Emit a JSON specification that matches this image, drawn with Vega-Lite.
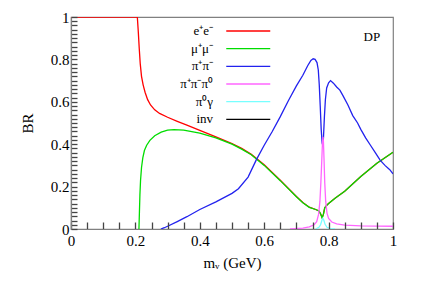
{
  "$schema": "https://vega.github.io/schema/vega-lite/v6.json",
  "width": 322,
  "height": 212,
  "autosize": {"type": "none"},
  "padding": {"left": 71, "top": 17, "right": 30, "bottom": 53},
  "background": "white",
  "config": {
    "view": {"stroke": "#808080", "strokeWidth": 1.2},
    "font": "Liberation Serif",
    "axis": {"grid": false, "zindex": 1, "tickColor": "#444444", "tickWidth": 1.3}
  },
  "data": {
    "values": [
      {"m": 0, "c": "e⁺e⁻", "br": 1},
      {"m": 0.1, "c": "e⁺e⁻", "br": 1},
      {"m": 0.2, "c": "e⁺e⁻", "br": 1},
      {"m": 0.206, "c": "e⁺e⁻", "br": 1},
      {"m": 0.209, "c": "e⁺e⁻", "br": 0.93},
      {"m": 0.212, "c": "e⁺e⁻", "br": 0.85},
      {"m": 0.215, "c": "e⁺e⁻", "br": 0.78},
      {"m": 0.219, "c": "e⁺e⁻", "br": 0.72},
      {"m": 0.224, "c": "e⁺e⁻", "br": 0.68},
      {"m": 0.23, "c": "e⁺e⁻", "br": 0.645},
      {"m": 0.238, "c": "e⁺e⁻", "br": 0.61},
      {"m": 0.247, "c": "e⁺e⁻", "br": 0.585},
      {"m": 0.26, "c": "e⁺e⁻", "br": 0.562},
      {"m": 0.275, "c": "e⁺e⁻", "br": 0.545},
      {"m": 0.3, "c": "e⁺e⁻", "br": 0.527},
      {"m": 0.33, "c": "e⁺e⁻", "br": 0.508},
      {"m": 0.36, "c": "e⁺e⁻", "br": 0.49},
      {"m": 0.4, "c": "e⁺e⁻", "br": 0.465},
      {"m": 0.45, "c": "e⁺e⁻", "br": 0.435},
      {"m": 0.5, "c": "e⁺e⁻", "br": 0.403},
      {"m": 0.53, "c": "e⁺e⁻", "br": 0.38},
      {"m": 0.56, "c": "e⁺e⁻", "br": 0.352},
      {"m": 0.6, "c": "e⁺e⁻", "br": 0.303},
      {"m": 0.65, "c": "e⁺e⁻", "br": 0.23},
      {"m": 0.7, "c": "e⁺e⁻", "br": 0.153},
      {"m": 0.72, "c": "e⁺e⁻", "br": 0.125},
      {"m": 0.74, "c": "e⁺e⁻", "br": 0.103},
      {"m": 0.76, "c": "e⁺e⁻", "br": 0.092},
      {"m": 0.77, "c": "e⁺e⁻", "br": 0.085},
      {"m": 0.775, "c": "e⁺e⁻", "br": 0.072},
      {"m": 0.78, "c": "e⁺e⁻", "br": 0.053},
      {"m": 0.784, "c": "e⁺e⁻", "br": 0.07},
      {"m": 0.788, "c": "e⁺e⁻", "br": 0.1},
      {"m": 0.795, "c": "e⁺e⁻", "br": 0.113},
      {"m": 0.8, "c": "e⁺e⁻", "br": 0.12},
      {"m": 0.82, "c": "e⁺e⁻", "br": 0.145},
      {"m": 0.85, "c": "e⁺e⁻", "br": 0.178},
      {"m": 0.9, "c": "e⁺e⁻", "br": 0.248},
      {"m": 0.95, "c": "e⁺e⁻", "br": 0.31},
      {"m": 1, "c": "e⁺e⁻", "br": 0.362},

      {"m": 0.211, "c": "μ⁺μ⁻", "br": 0},
      {"m": 0.2125, "c": "μ⁺μ⁻", "br": 0.08},
      {"m": 0.214, "c": "μ⁺μ⁻", "br": 0.16},
      {"m": 0.216, "c": "μ⁺μ⁻", "br": 0.23},
      {"m": 0.219, "c": "μ⁺μ⁻", "br": 0.29},
      {"m": 0.223, "c": "μ⁺μ⁻", "br": 0.335},
      {"m": 0.228, "c": "μ⁺μ⁻", "br": 0.37},
      {"m": 0.235, "c": "μ⁺μ⁻", "br": 0.395},
      {"m": 0.245, "c": "μ⁺μ⁻", "br": 0.418},
      {"m": 0.26, "c": "μ⁺μ⁻", "br": 0.44},
      {"m": 0.28, "c": "μ⁺μ⁻", "br": 0.457},
      {"m": 0.3, "c": "μ⁺μ⁻", "br": 0.466},
      {"m": 0.32, "c": "μ⁺μ⁻", "br": 0.469},
      {"m": 0.35, "c": "μ⁺μ⁻", "br": 0.466},
      {"m": 0.4, "c": "μ⁺μ⁻", "br": 0.452},
      {"m": 0.45, "c": "μ⁺μ⁻", "br": 0.43},
      {"m": 0.5, "c": "μ⁺μ⁻", "br": 0.4},
      {"m": 0.53, "c": "μ⁺μ⁻", "br": 0.377},
      {"m": 0.56, "c": "μ⁺μ⁻", "br": 0.35},
      {"m": 0.6, "c": "μ⁺μ⁻", "br": 0.3},
      {"m": 0.65, "c": "μ⁺μ⁻", "br": 0.228},
      {"m": 0.7, "c": "μ⁺μ⁻", "br": 0.152},
      {"m": 0.72, "c": "μ⁺μ⁻", "br": 0.124},
      {"m": 0.74, "c": "μ⁺μ⁻", "br": 0.102},
      {"m": 0.76, "c": "μ⁺μ⁻", "br": 0.092},
      {"m": 0.77, "c": "μ⁺μ⁻", "br": 0.085},
      {"m": 0.775, "c": "μ⁺μ⁻", "br": 0.072},
      {"m": 0.78, "c": "μ⁺μ⁻", "br": 0.052},
      {"m": 0.784, "c": "μ⁺μ⁻", "br": 0.07},
      {"m": 0.788, "c": "μ⁺μ⁻", "br": 0.1},
      {"m": 0.795, "c": "μ⁺μ⁻", "br": 0.113},
      {"m": 0.8, "c": "μ⁺μ⁻", "br": 0.12},
      {"m": 0.82, "c": "μ⁺μ⁻", "br": 0.145},
      {"m": 0.85, "c": "μ⁺μ⁻", "br": 0.178},
      {"m": 0.9, "c": "μ⁺μ⁻", "br": 0.248},
      {"m": 0.95, "c": "μ⁺μ⁻", "br": 0.31},
      {"m": 1, "c": "μ⁺μ⁻", "br": 0.362},

      {"m": 0.279, "c": "π⁺π⁻", "br": 0},
      {"m": 0.29, "c": "π⁺π⁻", "br": 0.006},
      {"m": 0.3, "c": "π⁺π⁻", "br": 0.013},
      {"m": 0.33, "c": "π⁺π⁻", "br": 0.035},
      {"m": 0.36, "c": "π⁺π⁻", "br": 0.058},
      {"m": 0.4, "c": "π⁺π⁻", "br": 0.092},
      {"m": 0.45, "c": "π⁺π⁻", "br": 0.128},
      {"m": 0.5, "c": "π⁺π⁻", "br": 0.168},
      {"m": 0.52, "c": "π⁺π⁻", "br": 0.19},
      {"m": 0.55, "c": "π⁺π⁻", "br": 0.245},
      {"m": 0.575, "c": "π⁺π⁻", "br": 0.325},
      {"m": 0.6, "c": "π⁺π⁻", "br": 0.395},
      {"m": 0.625, "c": "π⁺π⁻", "br": 0.46},
      {"m": 0.65, "c": "π⁺π⁻", "br": 0.53},
      {"m": 0.675, "c": "π⁺π⁻", "br": 0.605},
      {"m": 0.7, "c": "π⁺π⁻", "br": 0.675},
      {"m": 0.72, "c": "π⁺π⁻", "br": 0.725},
      {"m": 0.735, "c": "π⁺π⁻", "br": 0.77},
      {"m": 0.745, "c": "π⁺π⁻", "br": 0.795},
      {"m": 0.752, "c": "π⁺π⁻", "br": 0.803},
      {"m": 0.758, "c": "π⁺π⁻", "br": 0.8},
      {"m": 0.764, "c": "π⁺π⁻", "br": 0.785},
      {"m": 0.768, "c": "π⁺π⁻", "br": 0.75},
      {"m": 0.771, "c": "π⁺π⁻", "br": 0.68},
      {"m": 0.774, "c": "π⁺π⁻", "br": 0.58},
      {"m": 0.777, "c": "π⁺π⁻", "br": 0.47},
      {"m": 0.78, "c": "π⁺π⁻", "br": 0.405},
      {"m": 0.782, "c": "π⁺π⁻", "br": 0.395},
      {"m": 0.784, "c": "π⁺π⁻", "br": 0.43},
      {"m": 0.787, "c": "π⁺π⁻", "br": 0.53},
      {"m": 0.79, "c": "π⁺π⁻", "br": 0.61},
      {"m": 0.794, "c": "π⁺π⁻", "br": 0.665},
      {"m": 0.8, "c": "π⁺π⁻", "br": 0.69},
      {"m": 0.806, "c": "π⁺π⁻", "br": 0.7},
      {"m": 0.815, "c": "π⁺π⁻", "br": 0.688},
      {"m": 0.825, "c": "π⁺π⁻", "br": 0.67},
      {"m": 0.835, "c": "π⁺π⁻", "br": 0.655},
      {"m": 0.845, "c": "π⁺π⁻", "br": 0.628},
      {"m": 0.86, "c": "π⁺π⁻", "br": 0.585},
      {"m": 0.875, "c": "π⁺π⁻", "br": 0.535},
      {"m": 0.89, "c": "π⁺π⁻", "br": 0.5},
      {"m": 0.9, "c": "π⁺π⁻", "br": 0.47},
      {"m": 0.915, "c": "π⁺π⁻", "br": 0.43},
      {"m": 0.93, "c": "π⁺π⁻", "br": 0.395},
      {"m": 0.945, "c": "π⁺π⁻", "br": 0.36},
      {"m": 0.96, "c": "π⁺π⁻", "br": 0.325},
      {"m": 0.975, "c": "π⁺π⁻", "br": 0.3},
      {"m": 0.99, "c": "π⁺π⁻", "br": 0.28},
      {"m": 1, "c": "π⁺π⁻", "br": 0.26},

      {"m": 0.68, "c": "π⁺π⁻π⁰", "br": 0},
      {"m": 0.72, "c": "π⁺π⁻π⁰", "br": 0.004},
      {"m": 0.74, "c": "π⁺π⁻π⁰", "br": 0.01},
      {"m": 0.755, "c": "π⁺π⁻π⁰", "br": 0.02},
      {"m": 0.763, "c": "π⁺π⁻π⁰", "br": 0.035},
      {"m": 0.769, "c": "π⁺π⁻π⁰", "br": 0.07},
      {"m": 0.773, "c": "π⁺π⁻π⁰", "br": 0.13},
      {"m": 0.776, "c": "π⁺π⁻π⁰", "br": 0.22},
      {"m": 0.779, "c": "π⁺π⁻π⁰", "br": 0.33},
      {"m": 0.781, "c": "π⁺π⁻π⁰", "br": 0.41},
      {"m": 0.7825, "c": "π⁺π⁻π⁰", "br": 0.435},
      {"m": 0.784, "c": "π⁺π⁻π⁰", "br": 0.41},
      {"m": 0.786, "c": "π⁺π⁻π⁰", "br": 0.32},
      {"m": 0.788, "c": "π⁺π⁻π⁰", "br": 0.22},
      {"m": 0.791, "c": "π⁺π⁻π⁰", "br": 0.13},
      {"m": 0.795, "c": "π⁺π⁻π⁰", "br": 0.075},
      {"m": 0.8, "c": "π⁺π⁻π⁰", "br": 0.05},
      {"m": 0.81, "c": "π⁺π⁻π⁰", "br": 0.033},
      {"m": 0.825, "c": "π⁺π⁻π⁰", "br": 0.024},
      {"m": 0.85, "c": "π⁺π⁻π⁰", "br": 0.018},
      {"m": 0.9, "c": "π⁺π⁻π⁰", "br": 0.015},
      {"m": 1, "c": "π⁺π⁻π⁰", "br": 0.013},

      {"m": 0.76, "c": "π⁰γ", "br": 0},
      {"m": 0.77, "c": "π⁰γ", "br": 0.008},
      {"m": 0.775, "c": "π⁰γ", "br": 0.02},
      {"m": 0.779, "c": "π⁰γ", "br": 0.04},
      {"m": 0.782, "c": "π⁰γ", "br": 0.05},
      {"m": 0.785, "c": "π⁰γ", "br": 0.042},
      {"m": 0.789, "c": "π⁰γ", "br": 0.022},
      {"m": 0.795, "c": "π⁰γ", "br": 0.008},
      {"m": 0.805, "c": "π⁰γ", "br": 0.002},
      {"m": 0.82, "c": "π⁰γ", "br": 0}
    ]
  },
  "layer": [
    {
      "mark": {"type": "line", "strokeWidth": 1.3, "clip": true},
      "encoding": {
        "x": {
          "field": "m", "type": "quantitative",
          "scale": {"domain": [0, 1], "nice": false, "zero": false},
          "axis": {
            "orient": "bottom",
            "values": [0,0.05,0.1,0.15,0.2,0.25,0.3,0.35,0.4,0.45,0.5,0.55,0.6,0.65,0.7,0.75,0.8,0.85,0.9,0.95,1],
            "format": "~g",
            "labelExpr": "round(datum.value*100) % 20 == 0 ? datum.label : ''",
            "domainColor": "#808080", "domainWidth": 1.2,
            "tickSize": -7,
            "labelFont": "Liberation Serif", "labelFontSize": 15, "labelColor": "black",
            "labelPadding": 11, "labelOverlap": false, "labelFlush": false,
            "title": "mᵥ (GeV)",
            "titleFont": "Liberation Serif", "titleFontSize": 15, "titleFontWeight": "normal", "titleColor": "black",
            "titlePadding": 7,
            "zindex": 1
          }
        },
        "y": {
          "field": "br", "type": "quantitative",
          "scale": {"domain": [0, 1], "nice": false},
          "axis": {
            "orient": "left",
            "values": [0,0.02,0.04,0.06,0.08,0.1,0.12,0.14,0.16,0.18,0.2,0.22,0.24,0.26,0.28,0.3,0.32,0.34,0.36,0.38,0.4,0.42,0.44,0.46,0.48,0.5,0.52,0.54,0.56,0.58,0.6,0.62,0.64,0.66,0.68,0.7,0.72,0.74,0.76,0.78,0.8,0.82,0.84,0.86,0.88,0.9,0.92,0.94,0.96,0.98,1],
            "format": "~g",
            "labelExpr": "round(datum.value*100) % 20 == 0 ? datum.label : ''",
            "domainColor": "#808080", "domainWidth": 1.2,
            "tickSize": -6,
            "labelFont": "Liberation Serif", "labelFontSize": 15, "labelColor": "black",
            "labelPadding": 8, "labelOverlap": false, "labelFlush": false,
            "title": "BR",
            "titleFont": "Liberation Serif", "titleFontSize": 15, "titleFontWeight": "normal", "titleColor": "black",
            "titlePadding": 15,
            "zindex": 1
          }
        },
        "color": {
          "field": "c", "type": "nominal",
          "scale": {
            "domain": ["e⁺e⁻", "μ⁺μ⁻", "π⁺π⁻", "π⁺π⁻π⁰", "π⁰γ", "inv"],
            "range": ["#ff0000", "#00dd00", "#2222ee", "#ff66ff", "#77ffff", "#000000"]
          },
          "sort": ["e⁺e⁻", "μ⁺μ⁻", "π⁺π⁻", "π⁺π⁻π⁰", "π⁰γ", "inv"],
          "legend": {
            "orient": "none",
            "legendX": 170.75,
            "legendY": 7.5,
            "title": null,
            "padding": 0,
            "symbolType": "M-11,0H11",
            "symbolSize": 16,
            "symbolStrokeWidth": 1.3,
            "symbolOffset": 0,
            "labelFont": "Liberation Serif",
            "labelFontSize": 13,
            "labelColor": "black",
            "labelAlign": "right",
            "labelOffset": -41.75,
            "rowPadding": 3.67
          }
        }
      }
    },
    {
      "data": {"values": [{"t": "DP"}]},
      "mark": {"type": "text", "align": "right", "baseline": "alphabetic", "fontSize": 13, "font": "Liberation Serif", "color": "black"},
      "encoding": {
        "x": {"datum": 0.96, "type": "quantitative", "axis": null},
        "y": {"datum": 0.886, "type": "quantitative", "axis": null},
        "text": {"field": "t"}
      }
    }
  ],
  "resolve": {"axis": {"x": "independent", "y": "independent"}}
}
